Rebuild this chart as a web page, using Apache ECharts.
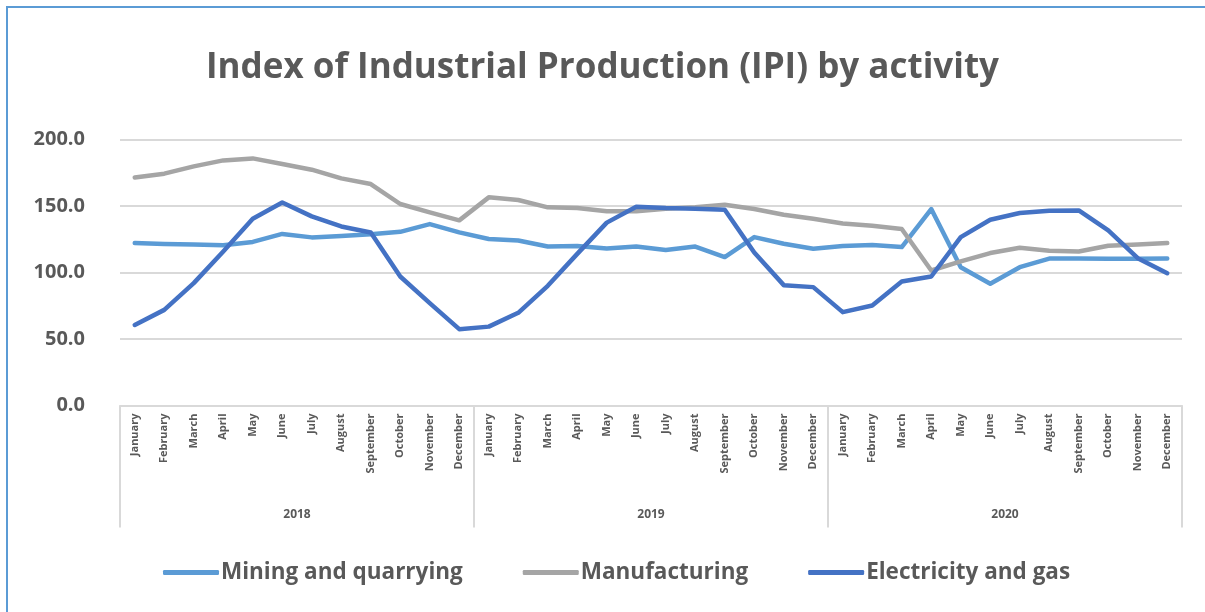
<!DOCTYPE html>
<html>
<head>
<meta charset="utf-8">
<script src="https://cdn.jsdelivr.net/npm/echarts@6/dist/echarts.min.js"></script>
<style>
html,body{margin:0;padding:0;background:#fff;}
#chart{width:1205px;height:612px;}
</style>
</head>
<body>
<div id="chart"></div>
<script>
const months = ['January','February','March','April','May','June','July','August','September','October','November','December'];
const years = ['2018','2019','2020'];
const monthCategories = [].concat(months, months, months);
const yTicks = [0, 50, 100, 150, 200];

const mining = [122.1,121.5,121.0,120.5,123.0,129.0,126.4,127.5,128.8,130.6,136.4,130.2,
                125.2,124.0,119.5,120.0,118.0,119.5,117.0,119.5,111.6,126.6,121.6,117.8,
                120.0,120.6,119.1,147.7,104.0,91.5,104.0,110.5,110.5,110.3,110.3,110.5];
const manufacturing = [171.5,174.3,179.8,184.3,185.8,181.6,177.3,170.8,166.5,151.5,145.2,139.2,
                       156.5,154.5,149.0,148.5,146.0,146.0,148.0,149.0,151.0,147.7,143.4,140.4,
                       136.9,135.2,132.7,101.5,108.3,114.6,118.6,116.3,115.8,120.1,121.1,122.1];
const electricity = [60.6,71.9,92.0,115.8,140.4,152.7,142.2,134.6,130.1,97.0,77.0,57.4,
                     59.3,69.7,90.0,114.0,137.5,149.5,148.5,148.0,147.2,115.0,90.5,89.0,
                     70.2,75.2,93.2,97.0,126.6,139.7,144.7,146.5,146.7,131.6,110.8,99.5];

const seriesNames = ['Mining and quarrying','Manufacturing','Electricity and gas'];
const seriesData = [mining, manufacturing, electricity];
const colors = ['#5B9BD5','#A5A5A5','#4472C4'];

const chart = echarts.init(document.getElementById('chart'), null, {renderer:'canvas'});
const txt = '#595959';
const font = '"Open Sans", "Noto Sans", sans-serif';

chart.setOption({
  animation:false,
  textStyle:{fontFamily:font},
  graphic:[{type:'rect', shape:{x:7,y:7,width:1220,height:640}, style:{fill:null, stroke:'#5B9BD5', lineWidth:2}, silent:true}],
  title:{text:'Index of Industrial Production (IPI) by activity', left:'center', top:46,
    textStyle:{fontSize:35, fontWeight:'bold', color:txt, fontFamily:font}},
  legend:{data:seriesNames, left:158, top:556, itemWidth:56, itemHeight:5, itemGap:60, icon:'roundRect',
    textStyle:{fontSize:22.5, fontWeight:'bold', color:txt, fontFamily:font, padding:[0,0,0,-3]}},
  grid:{left:120, right:23, top:139.5, bottom:206.5, containLabel:false},
  xAxis:[
    {type:'category', data:monthCategories, boundaryGap:true,
     axisLine:{show:true, lineStyle:{color:'#D9D9D9', width:2}},
     axisTick:{show:false},
     axisLabel:{interval:0, rotate:90, margin:8, fontSize:11, fontWeight:'bold', color:txt, fontFamily:font}},
    {type:'category', data:years, boundaryGap:true, position:'bottom',
     axisLine:{show:false},
     axisTick:{show:true, interval:0, length:122, lineStyle:{color:'#D9D9D9', width:2}},
     axisLabel:{interval:0, margin:103, fontSize:12, fontWeight:'bold', color:txt, fontFamily:font}}
  ],
  yAxis:{type:'value', min:yTicks[0], max:yTicks[yTicks.length-1], interval:50,
    axisLine:{show:false}, axisTick:{show:false},
    splitLine:{lineStyle:{color:'#D9D9D9', width:2}},
    axisLabel:{margin:35, fontSize:20, fontWeight:'bold', color:txt, fontFamily:font,
      formatter:v=>v.toFixed(1)}},
  series: seriesNames.map((n,i)=>({
    name:n, type:'line', data:seriesData[i], xAxisIndex:0, symbol:'none', smooth:false,
    lineStyle:{width:4.5, color:colors[i], cap:'round', join:'round'},
    itemStyle:{color:colors[i]}
  }))
});
</script>
</body>
</html>
